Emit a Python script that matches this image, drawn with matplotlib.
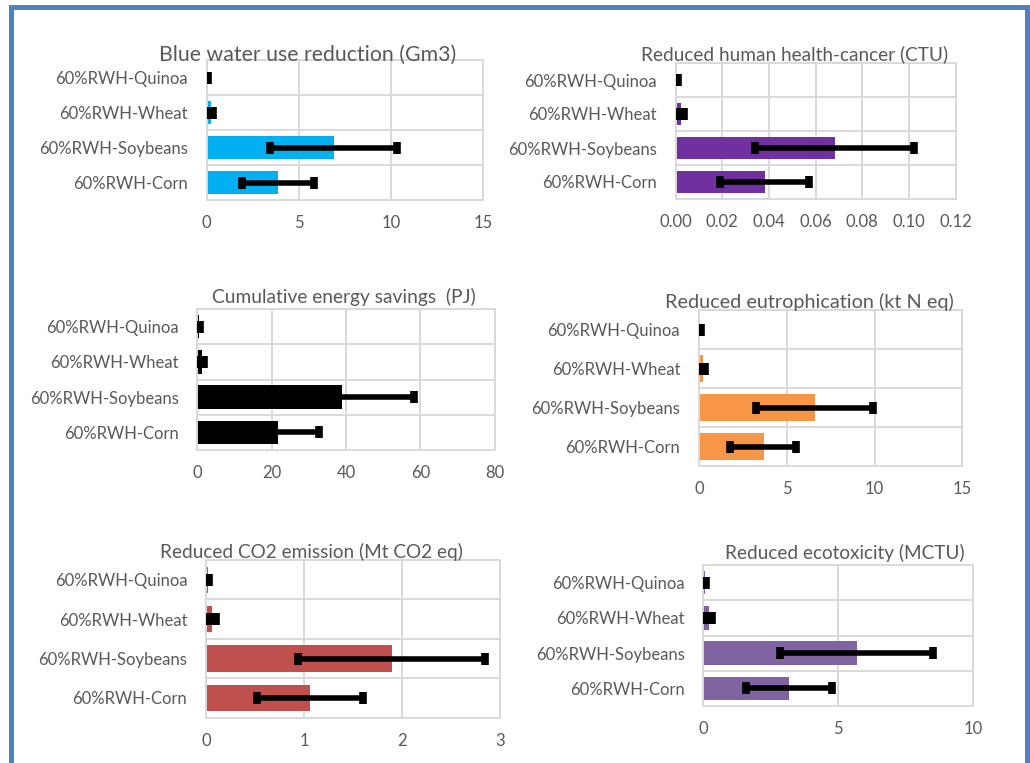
import numpy as np
import matplotlib.pyplot as plt
from matplotlib.patches import Rectangle

plt.rcParams['font.family'] = ['Lato', 'DejaVu Sans']

# categories, bottom to top as in the chart
crops = ['60%RWH-Corn', '60%RWH-Soybeans', '60%RWH-Wheat', '60%RWH-Quinoa']

# Blue water use reduction (Gm3)
water = [3.87, 6.90, 0.22, 0.06]
water_lo = [1.92, 3.43, 0.11, 0.03]
water_hi = [5.80, 10.35, 0.33, 0.09]

# Reduced human health-cancer (CTU)
health = [0.0383, 0.0683, 0.0023, 0.0007]
health_lo = [0.0190, 0.0340, 0.0012, 0.0003]
health_hi = [0.0573, 0.1023, 0.0036, 0.0011]

# Cumulative energy savings (PJ)
energy = [21.8, 38.9, 1.27, 0.40]
energy_lo = [10.9, 19.5, 0.64, 0.20]
energy_hi = [32.7, 58.4, 1.90, 0.60]

# Reduced eutrophication (kt N eq)
eutro = [3.72, 6.59, 0.21, 0.06]
eutro_lo = [1.77, 3.25, 0.10, 0.03]
eutro_hi = [5.53, 9.90, 0.32, 0.10]

# Reduced CO2 emission (Mt CO2 eq)
co2 = [1.06, 1.895, 0.065, 0.02]
co2_lo = [0.52, 0.94, 0.033, 0.01]
co2_hi = [1.60, 2.85, 0.10, 0.03]

# Reduced ecotoxicity (MCTU)
ecotox = [3.19, 5.68, 0.22, 0.07]
ecotox_lo = [1.58, 2.84, 0.11, 0.035]
ecotox_hi = [4.75, 8.49, 0.33, 0.11]

W, H = 1030, 763
TXT = '#595959'
GRID = '#d9d9d9'

fig = plt.figure(figsize=(W / 100, H / 100), dpi=100)
fig.patch.set_facecolor('white')


def panel(box, title, title_xy, title_size, vals, lo, hi, color, xticks,
          xfmt='{:g}'):
    x0, x1, y0, y1 = box
    ax = fig.add_axes([x0 / W, 1 - y1 / H, (x1 - x0) / W, (y1 - y0) / H])
    y = np.arange(len(crops))
    vals = np.array(vals)
    ax.barh(y, vals, height=0.67, color=color, zorder=2)
    err = [vals - np.array(lo), np.array(hi) - vals]
    ax.errorbar(vals, y, xerr=err, fmt='none', ecolor='black',
                elinewidth=4, capsize=4, capthick=5.5, zorder=3)
    ax.set_xlim(xticks[0], xticks[-1])
    ax.set_ylim(-0.5, 3.5)
    ax.set_xticks(xticks)
    ax.set_xticklabels([xfmt.format(t) for t in xticks])
    ax.set_yticks(y)
    ax.set_yticklabels(crops)
    ax.set_yticks([0.5, 1.5, 2.5], minor=True)
    ax.set_axisbelow(True)
    ax.grid(axis='x', which='major', color=GRID, lw=1.4)
    ax.grid(axis='y', which='minor', color=GRID, lw=1.4)
    for s in ax.spines.values():
        s.set_color(GRID)
        s.set_linewidth(1.4)
    ax.tick_params(which='both', length=0, labelsize=12, labelcolor=TXT)
    ax.tick_params(axis='y', pad=13.5)
    ax.tick_params(axis='x', pad=11)
    fig.text(title_xy[0] / W, 1 - title_xy[1] / H, title, ha='center',
             va='center', fontsize=title_size, color=TXT)
    return ax


panel((206.7, 483, 60, 200), 'Blue water use reduction (Gm3)', (308, 55), 15.3,
      water, water_lo, water_hi, '#00b0f0', [0, 5, 10, 15])
panel((675.7, 955.7, 63, 199), 'Reduced human health-cancer (CTU)', (795, 54), 13.7,
      health, health_lo, health_hi, '#7030a0',
      [0, 0.02, 0.04, 0.06, 0.08, 0.10, 0.12], '{:.2f}')
panel((197.3, 494.7, 309, 450), 'Cumulative energy savings  (PJ)', (344, 297), 13.8,
      energy, energy_lo, energy_hi, '#000000', [0, 20, 40, 60, 80])
panel((699, 962.3, 310, 466), 'Reduced eutrophication (kt N eq)', (809, 302), 14.3,
      eutro, eutro_lo, eutro_hi, '#f79646', [0, 5, 10, 15])
panel((206, 500, 560, 717.7), 'Reduced CO2 emission (Mt CO2 eq)', (311, 552), 13.7,
      co2, co2_lo, co2_hi, '#c0504d', [0, 1, 2, 3])
panel((703.3, 973.3, 565, 706), 'Reduced ecotoxicity (MCTU)', (845, 553), 13.7,
      ecotox, ecotox_lo, ecotox_hi, '#8064a2', [0, 5, 10])

# blue frame around the figure (bottom edge runs off the image)
frame = Rectangle((10.8 / W, -0.05), (1026.5 - 10.8) / W, 1.05 - 7.5 / H,
                  transform=fig.transFigure, fill=False, edgecolor='#4f81bd',
                  linewidth=3.6, clip_on=False)
fig.add_artist(frame)

fig.savefig('out.png', dpi=100, facecolor='white')
